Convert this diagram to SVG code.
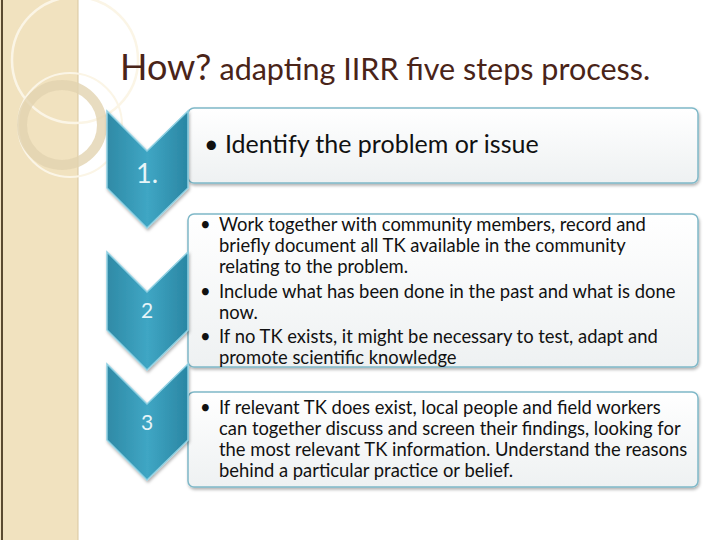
<svg xmlns="http://www.w3.org/2000/svg" width="720" height="540" viewBox="0 0 720 540">
<defs>
<linearGradient id="cg" x1="0" y1="0" x2="1" y2="0"><stop offset="0" stop-color="#2f8aa6"/><stop offset="0.5" stop-color="#3fa6c4"/><stop offset="1" stop-color="#2a86a3"/></linearGradient>
<linearGradient id="bg" x1="0" y1="0" x2="0" y2="1"><stop offset="0" stop-color="#ffffff"/><stop offset="1" stop-color="#eef1f2"/></linearGradient>
<filter id="sh" x="-5%" y="-5%" width="110%" height="115%"><feDropShadow dx="1" dy="2" stdDeviation="1.5" flood-color="#000" flood-opacity="0.3"/></filter>
</defs>
<style>
.chev{fill:url(#cg);stroke:#8fd0e2;stroke-width:1.5;filter:url(#sh)}
.box{fill:url(#bg);stroke:#7fb8c8;stroke-width:1.5;filter:url(#sh)}
.num{font-family:Lato,"Open Sans",sans-serif;fill:#e6f4f8;text-anchor:middle}
.t{font-family:Lato,"Open Sans",sans-serif;font-size:18.4px;fill:#111}
</style>
<rect width="720" height="540" fill="#fff"/>
<g id="sidebar">
<rect x="0" y="0" width="78" height="540" fill="#f1e2bf"/>
<line x1="2" y1="0" x2="2" y2="540" stroke="#5a4a30" stroke-width="2"/>
<line x1="78" y1="0" x2="78" y2="540" stroke="#d8c7a0" stroke-width="1"/>
<circle cx="75" cy="60" r="63" fill="none" stroke="#fbf5e6" stroke-width="2.5"/>
<circle cx="70" cy="125" r="52" fill="none" stroke="#fbf5e6" stroke-width="2"/>
<circle cx="62" cy="125" r="40" fill="none" stroke="#e2d3b0" stroke-width="10" opacity="0.8"/>
</g>
<text x="120" y="80" font-family="Lato,'Open Sans',sans-serif" fill="#4a2418"><tspan font-size="36">How?</tspan><tspan font-size="30.5" dx="8">adapting IIRR five steps process.</tspan></text>
<g id="step1">
<rect class="box" x="188" y="108" width="510" height="75" rx="6"/>
<polygon class="chev" points="107,111 147,151 188,111 188,188 147,228 107,188"/>
<text class="num" x="147" y="183" font-size="27">1.</text>
<text class="t" x="204" y="153" style="font-size:25px">•  Identify the problem or issue</text>
</g>
<g id="step2">
<rect class="box" x="188" y="214" width="510" height="153" rx="6"/>
<polygon class="chev" points="107,252 147,292 188,252 188,330 147,370 107,330"/>
<text class="num" x="147" y="318" font-size="21">2</text>
<text class="t" x="200" y="231">•</text>
<text class="t" x="219" y="231">Work together with community members, record and</text>
<text class="t" x="219" y="252">briefly document all TK available in the community</text>
<text class="t" x="219" y="273">relating to the problem.</text>
<text class="t" x="200" y="298">•</text>
<text class="t" x="219" y="298">Include what has been done in the past and what is done</text>
<text class="t" x="219" y="319">now.</text>
<text class="t" x="200" y="343">•</text>
<text class="t" x="219" y="343">If no TK exists, it might be necessary to test, adapt and</text>
<text class="t" x="219" y="364">promote scientific knowledge</text>
</g>
<g id="step3">
<rect class="box" x="188" y="392" width="510" height="95" rx="6"/>
<polygon class="chev" points="107,364 147,404 188,364 188,440 147,480 107,440"/>
<text class="num" x="147" y="430" font-size="21">3</text>
<text class="t" x="200" y="414">•</text>
<text class="t" x="219" y="414">If relevant TK does exist, local people and field workers</text>
<text class="t" x="219" y="435">can together discuss and screen their findings, looking for</text>
<text class="t" x="219" y="456">the most relevant TK information. Understand the reasons</text>
<text class="t" x="219" y="477">behind a particular practice or belief.</text>
</g>
<g id="connectors"/>
</svg>
